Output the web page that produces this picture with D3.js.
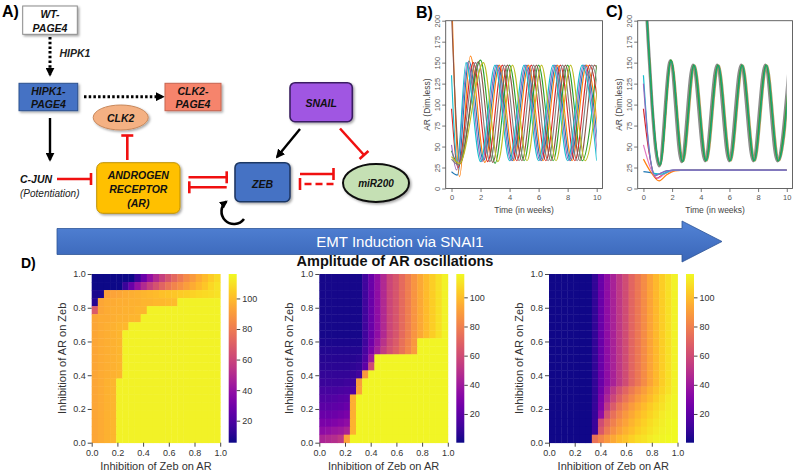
<!DOCTYPE html>
<html><head><meta charset="utf-8">
<script src="https://cdn.jsdelivr.net/npm/d3@7"></script>
<style>
body{margin:0;background:#fff;}
svg{display:block;font-family:"Liberation Sans",Arial,sans-serif;}
</style>
</head><body>
<svg id="c" width="800" height="472"></svg>
<script>
// ---------------- DATA ----------------
const weekTicks = [0, 2, 4, 6, 8, 10];
const arTicks = [0, 25, 50, 75, 100, 125, 150, 175, 200];
const inhibTicks = [0, 0.2, 0.4, 0.6, 0.8, 1.0];
const cbarTicks = [20, 40, 60, 80, 100];

// Panel B: AR (dim.less) vs time (weeks), [t, value] points
const seriesB = [
  [[0,20],[0.4,16],[1.2,152],[2.2,33],[3.2,147],[4.2,33],[5.2,147],[6.2,33],[7.2,147],[8.2,33],[9.2,147],[10.2,33]],
  [[0,240],[0.55,14],[1.3,158],[2.3,31],[3.3,147],[4.3,33],[5.3,147],[6.3,33],[7.3,147],[8.3,33],[9.3,147],[10.3,33]],
  [[0,45],[0.5,28],[2.0,153],[3.0,30],[4.0,147],[5.0,33],[6.0,147],[7.0,33],[8.0,147],[9.0,33],[10.0,147]],
  [[0,95],[0.45,25],[1.5,150],[2.5,32],[3.5,147],[4.5,33],[5.5,147],[6.5,33],[7.5,147],[8.5,33],[9.5,147],[10.5,33]],
  [[0,52],[0.35,22],[1.1,150],[2.1,32],[3.1,147],[4.1,33],[5.1,147],[6.1,33],[7.1,147],[8.1,33],[9.1,147],[10.1,33]],
  [[0,210],[0.6,30],[1.85,151],[2.85,31],[3.85,147],[4.85,33],[5.85,147],[6.85,33],[7.85,147],[8.85,33],[9.85,147],[10.85,33]],
  [[0,35],[0.5,28],[1.65,150],[2.65,32],[3.65,147],[4.65,33],[5.65,147],[6.65,33],[7.65,147],[8.65,33],[9.65,147],[10.65,33]],
  [[0,135],[0.4,32],[1.0,150],[2.0,32],[3.0,147],[4.0,33],[5.0,147],[6.0,33],[7.0,147],[8.0,33],[9.0,147],[10.0,33]],
  [[0,38],[0.55,30],[2.2,150],[3.2,32],[4.2,147],[5.2,33],[6.2,147],[7.2,33],[8.2,147],[9.2,33],[10.2,147]]
];
// Panel C
const seriesCosc = [
  [[0,280],[0.3,185],[0.6,100],[0.85,48],[1.1,27],[1.88,152],[2.66,32],[3.46,147],[4.3,33],[5.14,147],[5.98,33],[6.82,147],[7.66,33],[8.5,147],[9.34,33],[10.18,147]],
  [[0,280],[0.3,190],[0.6,106],[0.9,48],[1.2,28],[1.98,152],[2.8,32],[3.6,147],[4.44,33],[5.28,147],[6.12,33],[6.96,147],[7.8,33],[8.64,147],[9.48,33],[10.32,147]],
  [[0,280],[0.3,187],[0.6,103],[0.88,48],[1.15,28],[1.92,153],[2.72,32],[3.52,147],[4.36,33],[5.2,147],[6.04,33],[6.88,147],[7.72,33],[8.56,147],[9.4,33],[10.24,147]],
  [[0,280],[0.3,188],[0.6,104],[0.89,48],[1.17,28],[1.94,152],[2.75,32],[3.55,147],[4.39,33],[5.23,147],[6.07,33],[6.91,147],[7.75,33],[8.59,147],[9.43,33],[10.27,147]]
];
const seriesCdecay = [
  [[0,20],[0.5,19],[1.0,17],[1.6,21],[2.4,22],[10,22]],
  [[0,35],[0.5,20],[1.1,9],[1.6,16],[2.2,21],[3,22],[10,22]],
  [[0,95],[0.4,42],[0.9,12],[1.4,17],[2.1,21.5],[3,22],[10,22]],
  [[0,52],[0.5,24],[1.0,12],[1.5,18],[2.3,22],[10,22]],
  [[0,135],[0.35,55],[0.75,18],[1.2,17],[2.0,21.5],[3,22],[10,22]],
  [[0,125],[0.4,45],[0.8,15],[1.3,19],[2.0,21.8],[3,22],[10,22]]
];

// Panel D heatmaps: 21 x 21 grids, rows from top (AR->Zeb = 1.0) to bottom (0.0),
// columns from Zeb->AR = 0.0 to 1.0
const heat1 = [
  [6,6,6,6,6,6,6,15,28,40,50,58,66,73,79,85,90,95,100,104,108],
  [6,6,6,6,6,15,28,40,50,58,65,72,78,83,87,91,95,99,103,107,110],
  [8,8,92,93,94,95,96,97,98,99,100,101,102,103,104,105,106,107,108,109,110],
  [10,94,95,95,96,96,97,97,98,98,99,99,100,100,114,114,114,114,114,114,114],
  [68,94,95,96,96,97,97,98,98,114,114,114,114,114,114,114,114,114,114,114,114],
  [94,95,95,96,97,97,98,98,114,114,114,114,114,114,114,114,114,114,114,114,114],
  [94,95,96,97,98,99,114,114,114,114,114,114,114,114,114,114,114,114,114,114,114],
  [94,95,96,97,98,114,114,114,114,114,114,114,114,114,114,114,114,114,114,114,114],
  [94,95,96,97,98,114,114,114,114,114,114,114,114,114,114,114,114,114,114,114,114],
  [94,95,96,97,98,114,114,114,114,114,114,114,114,114,114,114,114,114,114,114,114],
  [94,95,96,97,98,114,114,114,114,114,114,114,114,114,114,114,114,114,114,114,114],
  [94,95,96,97,98,114,114,114,114,114,114,114,114,114,114,114,114,114,114,114,114],
  [94,95,96,97,98,114,114,114,114,114,114,114,114,114,114,114,114,114,114,114,114],
  [94,95,97,98,114,114,114,114,114,114,114,114,114,114,114,114,114,114,114,114,114],
  [94,95,97,98,114,114,114,114,114,114,114,114,114,114,114,114,114,114,114,114,114],
  [94,95,97,98,114,114,114,114,114,114,114,114,114,114,114,114,114,114,114,114,114],
  [94,95,97,98,114,114,114,114,114,114,114,114,114,114,114,114,114,114,114,114,114],
  [94,95,97,98,114,114,114,114,114,114,114,114,114,114,114,114,114,114,114,114,114],
  [94,95,97,98,114,114,114,114,114,114,114,114,114,114,114,114,114,114,114,114,114],
  [94,95,97,98,114,114,114,114,114,114,114,114,114,114,114,114,114,114,114,114,114],
  [94,95,97,98,114,114,114,114,114,114,114,114,114,114,114,114,114,114,114,114,114]
];
const heat2 = [
  [2,2,2,2,2,2,2,12,23,35,46,58,64,72,79,87,93,99,104,109,114],
  [2,2,2,2,2,2,2,12,23,35,46,58,64,72,79,87,93,99,104,109,114],
  [2,2,2,2,2,2,2,12,23,35,46,58,64,72,79,87,93,99,104,109,114],
  [2,2,2,2,2,2,2,12,23,35,46,58,64,72,79,87,93,99,104,109,114],
  [2,2,2,2,2,2,2,12,23,35,46,58,64,72,79,87,93,99,104,109,114],
  [2,2,2,2,2,2,2,12,23,35,46,58,64,72,79,87,93,99,104,109,114],
  [2,2,2,2,2,2,2,12,23,35,46,58,64,72,79,87,93,99,104,109,114],
  [2,2,2,2,2,2,2,12,23,35,46,58,64,72,79,87,93,99,104,109,114],
  [3,3,3,3,3,3,3,12,25,38,50,60,66,74,81,88,115,115,115,115,115],
  [4,4,4,4,4,4,4,14,28,42,54,62,68,75,82,89,115,115,115,115,115],
  [5,5,5,5,5,5,6,16,40,115,115,115,115,115,115,115,115,115,115,115,115],
  [6,6,6,6,6,7,8,20,60,115,115,115,115,115,115,115,115,115,115,115,115],
  [8,8,8,8,8,9,12,88,115,115,115,115,115,115,115,115,115,115,115,115,115],
  [10,10,10,10,11,12,90,115,115,115,115,115,115,115,115,115,115,115,115,115,115],
  [13,13,13,14,15,16,92,115,115,115,115,115,115,115,115,115,115,115,115,115,115],
  [16,16,17,18,19,95,115,115,115,115,115,115,115,115,115,115,115,115,115,115,115],
  [19,19,20,21,23,95,115,115,115,115,115,115,115,115,115,115,115,115,115,115,115],
  [23,23,24,26,28,95,115,115,115,115,115,115,115,115,115,115,115,115,115,115,115],
  [28,28,30,32,35,96,115,115,115,115,115,115,115,115,115,115,115,115,115,115,115],
  [34,36,38,40,44,96,115,115,115,115,115,115,115,115,115,115,115,115,115,115,115],
  [44,46,48,52,92,115,115,115,115,115,115,115,115,115,115,115,115,115,115,115,115]
];
const heat3 = [
  [1,1,1,1,1,1,1,8,23,35,43,52,60,70,77,84,92,98,104,109,114],
  [1,1,1,1,1,1,1,8,23,35,43,52,60,70,77,84,92,98,104,109,114],
  [1,1,1,1,1,1,1,8,23,35,43,52,60,70,77,84,92,98,104,109,114],
  [1,1,1,1,1,1,1,8,23,35,43,52,60,70,77,84,92,98,104,109,114],
  [1,1,1,1,1,1,1,8,23,35,43,52,60,70,77,84,92,98,104,109,114],
  [1,1,1,1,1,1,1,8,23,35,43,52,60,70,77,84,92,98,104,109,114],
  [1,1,1,1,1,1,1,8,23,35,43,52,60,70,77,84,92,98,104,109,114],
  [1,1,1,1,1,1,1,8,23,35,43,52,60,70,77,84,92,98,104,109,114],
  [1,1,1,1,1,1,1,8,23,35,43,52,60,70,77,84,92,98,104,109,114],
  [1,1,1,1,1,1,1,8,23,35,43,52,60,70,77,84,92,98,104,109,114],
  [1,1,1,1,1,1,1,8,23,35,43,52,60,70,77,84,92,98,104,109,114],
  [1,1,1,1,1,1,1,8,23,35,43,52,60,70,77,84,92,98,104,109,114],
  [1,1,1,1,1,1,1,8,23,35,43,52,60,70,77,84,92,98,104,109,114],
  [1,1,1,1,1,1,1,8,23,35,43,52,60,70,77,84,92,98,104,109,114],
  [1,1,1,1,1,1,1,8,25,40,52,62,70,78,84,90,96,101,106,110,114],
  [1,1,1,1,1,1,1,8,28,45,58,68,76,83,89,94,99,104,108,112,115],
  [1,1,1,1,1,1,1,9,30,52,66,76,83,89,94,99,103,107,110,113,115],
  [1,1,1,1,1,1,1,9,35,62,74,82,88,93,98,102,106,109,112,114,115],
  [1,1,1,1,1,1,1,10,60,72,80,87,92,97,101,105,108,111,113,115,116],
  [1,1,1,1,1,1,1,10,65,78,85,91,96,100,104,107,110,112,114,115,116],
  [1,1,1,1,1,1,1,75,82,88,93,98,101,105,108,110,112,114,115,116,116]
];
const heatRanges = [[5.6, 116], [0.3, 116], [0.3, 116]];

// ---------------- STYLE ----------------
const paletteB = ['#1f77b4','#ff7f0e','#2ca02c','#d62728','#9467bd','#8c564b','#7f7f7f','#17becf','#bcbd22'];
const paletteCosc = ['#8c8c8c','#b59a5a','#2ca02c','#17a589'];
const widthCosc = [3.2, 1.2, 1.6, 1.0];
const paletteCdecay = ['#1f77b4','#ff7f0e','#d62728','#e377c2','#17becf','#9467bd'];

const svg = d3.select('#c');
const defs = svg.append('defs');

// ---------------- DIAGRAM (A) ----------------
defs.append('marker').attr('id','ah').attr('viewBox','0 0 10 10').attr('refX',8).attr('refY',5)
  .attr('markerWidth',9).attr('markerHeight',9).attr('markerUnits','userSpaceOnUse').attr('orient','auto')
  .append('path').attr('d','M0,0L10,5L0,10z').attr('fill','#000');
defs.append('marker').attr('id','ahs').attr('viewBox','0 0 10 10').attr('refX',8).attr('refY',5)
  .attr('markerWidth',8).attr('markerHeight',8).attr('markerUnits','userSpaceOnUse').attr('orient','auto')
  .append('path').attr('d','M0,0L10,5L0,10z').attr('fill','#000');
const shadow = defs.append('filter').attr('id','sh').attr('x','-20%').attr('y','-20%').attr('width','150%').attr('height','150%');
shadow.append('feDropShadow').attr('dx',1.5).attr('dy',1.5).attr('stdDeviation',1).attr('flood-color','#000').attr('flood-opacity',0.35);

const dg = svg.append('g');
dg.append('text').attr('x',2).attr('y',17).attr('font-size',16).attr('font-weight','bold').text('A)');

function box(x,y,w,h,fill,stroke,lines,baselines,rx,sw){
  dg.append('rect').attr('x',x).attr('y',y).attr('width',w).attr('height',h).attr('rx',rx||0)
    .attr('fill',fill).attr('stroke',stroke).attr('stroke-width',sw||1).attr('filter','url(#sh)');
  lines.forEach((t,i)=>dg.append('text').attr('x',x+w/2).attr('y',baselines[i]).attr('text-anchor','middle')
    .attr('font-size',10.5).attr('font-weight','bold').attr('font-style','italic').attr('fill','#111').text(t));
}
function inhib(x1,y1,x2,y2,bar,dash){
  const dx=x2-x1, dy=y2-y1, L=Math.hypot(dx,dy), px=-dy/L*bar/2, py=dx/L*bar/2;
  dg.append('line').attr('x1',x1).attr('y1',y1).attr('x2',x2).attr('y2',y2).attr('stroke','#f01010')
    .attr('stroke-width',2.6).attr('stroke-dasharray',dash||null);
  dg.append('line').attr('x1',x2+px).attr('y1',y2+py).attr('x2',x2-px).attr('y2',y2-py).attr('stroke','#f01010').attr('stroke-width',2.6);
}
function arrow(x1,y1,x2,y2,dash){
  dg.append('line').attr('x1',x1).attr('y1',y1).attr('x2',x2).attr('y2',y2).attr('stroke','#000')
    .attr('stroke-width',dash?3:2.4).attr('stroke-dasharray',dash?'2.5,2.2':null).attr('marker-end','url(#ah)');
}

box(22.7,6,54.6,28.3,'#ffffff','#8a8a8a',['WT-','PAGE4'],[18.3,32]);
arrow(50,37,50,75,true);
dg.append('text').attr('x',59.5).attr('y',57).attr('font-size',10.5).attr('font-weight','bold').attr('font-style','italic').attr('fill','#222').text('HIPK1');
box(19,83.3,58.7,27.4,'#4472c4','#2f528f',['HIPK1-','PAGE4'],[95,108.3]);
arrow(84,96.7,163,96.7,true);
box(165,83.3,56,27.4,'#f6846c','#c8644f',['CLK2-','PAGE4'],[95,108.3]);
dg.append('ellipse').attr('cx',120.7).attr('cy',117.5).attr('rx',27.5).attr('ry',12.5).attr('fill','#f4b183').attr('stroke','#c8875a').attr('filter','url(#sh)');
dg.append('text').attr('x',120.7).attr('y',121.5).attr('text-anchor','middle').attr('font-size',10.5).attr('font-weight','bold').attr('font-style','italic').attr('fill','#111').text('CLK2');
inhib(127.3,160,127.3,135.5,12);
arrow(50,118,50,160,false);
dg.append('text').attr('x',20).attr('y',182.5).attr('font-size',10.5).attr('font-weight','bold').attr('font-style','italic').attr('fill','#111').text('C-JUN');
dg.append('text').attr('x',20).attr('y',196.5).attr('font-size',10).attr('font-style','italic').attr('fill','#222').text('(Potentiation)');
inhib(57,179,91,179,12);
box(96.7,162.7,83.3,50.6,'#ffc000','#bf9000',['ANDROGEN','RECEPTOR','(AR)'],[178.8,193,207],6);
inhib(188.5,177.3,226.7,177.3,12);
inhib(226.7,187.3,189.3,187.3,12);
box(235,162.7,55,39,'#4472c4','#1f3864',['ZEB'],[187.5],5,1.6);
dg.append('path').attr('d','M244,219 A12.5,12.5 0 1 1 226.5,201.5').attr('fill','none').attr('stroke','#000').attr('stroke-width',2.6).attr('marker-end','url(#ahs)');
box(290,82.7,62.3,39,'#a056e2','#3b1f63',['SNAIL'],[106.5],5,1.6);
arrow(300,129,277,157,false);
inhib(340,128.5,364,155,12);
inhib(300,174,333.5,174,12);
inhib(333.5,184,300,184,12,'7,4');
dg.append('ellipse').attr('cx',376).attr('cy',183).attr('rx',33).attr('ry',19).attr('fill','#c5e0b4').attr('stroke','#111').attr('stroke-width',2).attr('filter','url(#sh)');
dg.append('text').attr('x',376).attr('y',187).attr('text-anchor','middle').attr('font-size',10).attr('font-weight','bold').attr('font-style','italic').attr('fill','#111').text('miR200');

// ---------------- LINE PANELS (B, C) ----------------
function linePanel(frame, groups, label, lx, ly){
  const x = d3.scaleLinear().domain([-0.4, 10.4]).range([frame.l, frame.r]);
  const y = d3.scaleLinear().domain([0, 200]).range([frame.b, frame.t]);
  const cid = 'clip' + label;
  defs.append('clipPath').attr('id', cid).append('rect')
    .attr('x', x(0) - 2).attr('y', frame.t).attr('width', x(10) - x(0) + 2).attr('height', frame.b - frame.t);
  const line = d3.line().x(d => x(d[0])).y(d => y(d[1])).curve(d3.curveMonotoneX);
  const g = svg.append('g').attr('clip-path', `url(#${cid})`);
  groups.forEach(gr => gr.series.forEach((s, i) => {
    g.append('path').attr('d', line(s)).attr('fill', 'none').attr('stroke', gr.colors[i % gr.colors.length])
      .attr('stroke-width', gr.widths ? gr.widths[i] : gr.width).attr('stroke-linejoin','round');
  }));
  svg.append('rect').attr('x', frame.l).attr('y', frame.t).attr('width', frame.r - frame.l).attr('height', frame.b - frame.t)
    .attr('fill', 'none').attr('stroke', '#555').attr('stroke-width', 0.9);
  const ax = svg.append('g').attr('transform', `translate(0,${frame.b})`)
    .call(d3.axisBottom(x).tickValues(weekTicks).tickSize(3.5).tickPadding(2.5));
  const ay = svg.append('g').attr('transform', `translate(${frame.l},0)`)
    .call(d3.axisLeft(y).tickValues(arTicks).tickSize(3.5));
  [ax, ay].forEach(a => {
    a.select('.domain').remove();
    a.selectAll('line').attr('stroke', '#555').attr('stroke-width', 0.8);
    a.selectAll('text').attr('fill', '#555').attr('font-size', 7.5).attr('font-family', '"Liberation Sans",Arial,sans-serif');
  });
  ay.selectAll('text').attr('transform', 'rotate(-90)').attr('x', 0).attr('y', -6).attr('dy', 0).attr('text-anchor', 'middle');
  svg.append('text').attr('x', (x(0) + x(10)) / 2).attr('y', frame.b + 24).attr('text-anchor', 'middle')
    .attr('font-size', 8.5).attr('fill', '#444').text('Time (in weeks)');
  svg.append('text').attr('transform', `translate(${frame.l - 16},${(frame.t + frame.b) / 2}) rotate(-90)`)
    .attr('text-anchor', 'middle').attr('font-size', 8.5).attr('fill', '#444').text('AR (Dim.less)');
  svg.append('text').attr('x', lx).attr('y', ly).attr('font-size', 16).attr('font-weight', 'bold').text(label + ')');
}
linePanel({l:445.7, r:602.5, t:20.7, b:188.5}, [{series:seriesB, colors:paletteB, width:1.1}], 'B', 416, 18);
linePanel({l:637.7, r:792.5, t:20.7, b:188.5}, [
  {series:seriesCosc, colors:paletteCosc, widths:widthCosc},
  {series:seriesCdecay, colors:paletteCdecay, width:1.2}], 'C', 606, 17);

// ---------------- EMT BANNER ----------------
const bg = defs.append('linearGradient').attr('id','bann').attr('x1',0).attr('y1',0).attr('x2',0).attr('y2',1);
bg.append('stop').attr('offset','0%').attr('stop-color','#5283d6');
bg.append('stop').attr('offset','100%').attr('stop-color','#3a66b8');
svg.append('path').attr('d','M57,228.5 L682,228.5 L682,221 L722,241.5 L682,262 L682,254.5 L57,254.5 Z')
  .attr('fill','url(#bann)').attr('stroke','#2f5597').attr('stroke-width',0.8);
svg.append('text').attr('x',400).attr('y',247).attr('text-anchor','middle').attr('font-size',15)
  .attr('fill','#fff').text('EMT Induction via SNAI1');

// ---------------- HEATMAPS (D) ----------------
svg.append('text').attr('x',21).attr('y',268).attr('font-size',14).attr('font-weight','bold').text('D)');
svg.append('text').attr('x',395).attr('y',266).attr('text-anchor','middle').attr('font-size',14.5).attr('font-weight','bold')
  .attr('fill','#111').text('Amplitude of AR oscillations');

function heatmap(data, range, L, idx){
  const T = 274, H = 168.7, W = 128.5, n = data.length;
  const xb = d3.scaleBand().domain(d3.range(n)).range([L, L + W]);
  const yb = d3.scaleBand().domain(d3.range(n)).range([T, T + H]);
  const color = d3.scaleSequential(d3.interpolatePlasma).domain(range);
  const g = svg.append('g');
  data.forEach((row, ri) => row.forEach((v, ci) => {
    g.append('rect').attr('x', xb(ci)).attr('y', yb(ri)).attr('width', xb.bandwidth() + 0.4).attr('height', yb.bandwidth() + 0.4)
      .attr('fill', color(v));
  }));
  const xs = d3.scaleLinear().domain([0, 1]).range([L, L + W]);
  const ys = d3.scaleLinear().domain([0, 1]).range([T + H, T]);
  const ax = svg.append('g').attr('transform', `translate(0,${T + H})`)
    .call(d3.axisBottom(xs).tickValues(inhibTicks).tickFormat(d3.format('.1f')).tickSize(4).tickPadding(2.5));
  const ay = svg.append('g').attr('transform', `translate(${L},0)`)
    .call(d3.axisLeft(ys).tickValues(inhibTicks).tickFormat(d3.format('.1f')).tickSize(4).tickPadding(2));
  const gid = 'cb' + idx;
  const lg = defs.append('linearGradient').attr('id', gid).attr('x1', 0).attr('y1', 1).attr('x2', 0).attr('y2', 0);
  d3.range(0, 1.0001, 0.05).forEach(t => lg.append('stop').attr('offset', (t * 100) + '%').attr('stop-color', d3.interpolatePlasma(t)));
  const cbx = L + W + 8.5;
  svg.append('rect').attr('x', cbx).attr('y', T).attr('width', 8).attr('height', H).attr('fill', `url(#${gid})`);
  const cs = d3.scaleLinear().domain(range).range([T + H, T]);
  const ac = svg.append('g').attr('transform', `translate(${cbx + 8},0)`)
    .call(d3.axisRight(cs).tickValues(cbarTicks).tickSize(3.5).tickPadding(2));
  [ax, ay, ac].forEach(a => {
    a.select('.domain').remove();
    a.selectAll('line').attr('stroke', '#333').attr('stroke-width', 0.9);
    a.selectAll('text').attr('fill', '#333').attr('font-size', 9).attr('font-family', '"Liberation Sans",Arial,sans-serif');
  });
  svg.append('text').attr('x', L + W / 2).attr('y', 470).attr('text-anchor', 'middle').attr('font-size', 11).attr('fill', '#333')
    .text('Inhibition of Zeb on AR');
  svg.append('text').attr('transform', `translate(${L - 26},${T + H / 2}) rotate(-90)`).attr('text-anchor', 'middle')
    .attr('font-size', 11).attr('fill', '#333').text('Inhibition of AR on Zeb');
}
heatmap(heat1, heatRanges[0], 91.7, 0);
heatmap(heat2, heatRanges[1], 319.3, 1);
heatmap(heat3, heatRanges[2], 549, 2);
</script>
</body></html>
